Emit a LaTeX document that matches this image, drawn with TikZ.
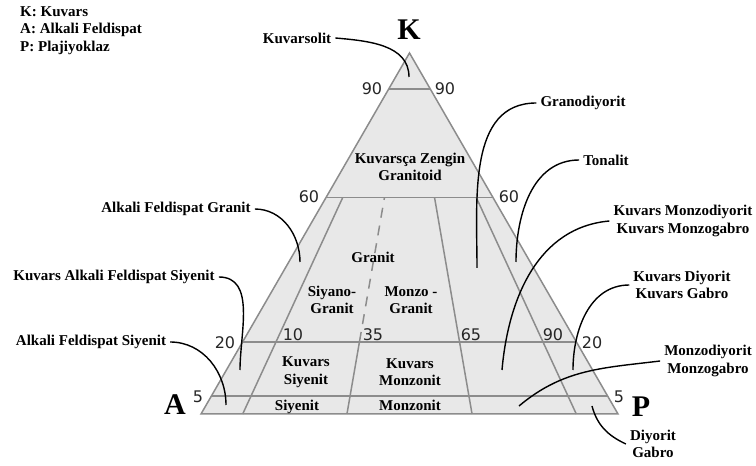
\documentclass[tikz,border=0pt]{standalone}
\usepackage{fontspec}
\setmainfont{Liberation Serif}
\newfontfamily\numfont{DejaVu Sans}
\usetikzlibrary{calc}

\begin{document}
\begin{tikzpicture}[x=1pt, y=1pt,
    every node/.style={font=\bfseries\fontsize{15}{17.5}\selectfont, align=center, inner sep=4pt},
    num/.style={font=\numfont\fontsize{16}{18}\selectfont, text=black!85, inner sep=0pt},
    corner/.style={font=\bfseries\fontsize{30}{30}\selectfont, inner sep=0pt},
    key/.style={anchor=west, inner sep=0pt},
    field/.style={draw=black!45, line width=1.5pt},
    lead/.style={draw=black, line width=1.4pt}]
  \useasboundingbox (0,0) rectangle (756,466);

  % triangle corners
  \coordinate (A) at (201,52);
  \coordinate (P) at (618,52);
  \coordinate (K) at (409.5,413);

  \fill[black!9] (A) -- (P) -- (K) -- cycle;
  \foreach \q in {0.05,0.2,0.6,0.9}
    \draw[field] ($(A)!\q!(K)$) -- ($(P)!\q!(K)$);
  \foreach \r in {0.1,0.65,0.9}
    \draw[field] ($(A)!\r!(P)$) -- ($(A)!\r!(P)!0.6!(K)$);
  \draw[field] ($(A)!0.35!(P)$) -- ($(A)!0.35!(P)!0.2!(K)$);
  \draw[field, dash pattern=on 10pt off 8pt] ($(A)!0.35!(P)!0.2!(K)$) -- ($(A)!0.35!(P)!0.6!(K)$);
  \draw[field] (A) -- (P) -- (K) -- cycle;

  % legend
  \node[key] (keyK) at (20,454) {K: Kuvars};
  \node[key] (keyA) at (20,436) {A: Alkali Feldispat};
  \node[key] (keyP) at (20,418) {P: Plajiyoklaz};

  % corner letters
  \node[corner] (cornerK) at (409,436) {K};
  \node[corner] (cornerA) at (175,61) {A};
  \node[corner] (cornerP) at (641,59) {P};

  % scale numbers
  \node[num] (q90l) at (372,377) {90};
  \node[num] (q90r) at (445,377) {90};
  \node[num] (q60l) at (309,269) {60};
  \node[num] (q60r) at (509,269) {60};
  \node[num] (q20l) at (225,123) {20};
  \node[num] (q20r) at (592,123) {20};
  \node[num] (q5l) at (198,69) {5};
  \node[num] (q5r) at (619,69) {5};
  \node[num] (p10) at (293,131) {10};
  \node[num] (p35) at (373,131) {35};
  \node[num] (p65) at (471,131) {65};
  \node[num] (p90) at (553,131) {90};

  % fields inside
  \node (zengin) at (410,299) {Kuvarsça Zengin\\Granitoid};
  \node (granit) at (373,209) {Granit};
  \node (siyanoGranit) at (332,166) {Siyano-\\Granit};
  \node (monzoGranit) at (411,166) {Monzo -\\Granit};
  \node (kuvSiyenit) at (306,94) {Kuvars\\Siyenit};
  \node (kuvMonzonit) at (410,94) {Kuvars\\Monzonit};
  \node (siyenit) at (297,59) {Siyenit};
  \node (monzonit) at (410,61) {Monzonit};

  % fields outside
  \node (kuvarsolit) at (297,428) {Kuvarsolit};
  \node (granodiyorit) at (583,363) {Granodiyorit};
  \node (tonalit) at (606,306) {Tonalit};
  \node (kuvMonzoD) at (683,245) {Kuvars Monzodiyorit\\Kuvars Monzogabro};
  \node (kuvDiyorit) at (682,181) {Kuvars Diyorit\\Kuvars Gabro};
  \node (monzoD) at (708,105) {Monzodiyorit\\Monzogabro};
  \node (diyorit) at (653,22) {Diyorit\\Gabro};
  \node (afGranit) at (176,257) {Alkali Feldispat Granit};
  \node (kafSiyenit) at (114,189) {Kuvars Alkali Feldispat Siyenit};
  \node (afSiyenit) at (91,124) {Alkali Feldispat Siyenit};

  % leader ends
  \coordinate (kuvarsolitEnd) at (409,389);
  \coordinate (granodiyoritEnd) at (477,198);
  \coordinate (tonalitEnd) at (516,204);
  \coordinate (kuvMonzoDEnd) at (502,96);
  \coordinate (kuvDiyoritEnd) at (573,96);
  \coordinate (monzoDEnd) at (519,60);
  \coordinate (diyoritEnd) at (592,60);
  \coordinate (afGranitEnd) at (300,204);
  \coordinate (kafSiyenitEnd) at (240,96);
  \coordinate (afSiyenitEnd) at (226,61);

  \draw[lead] (kuvarsolit.east) to[out=-5, in=90] (kuvarsolitEnd);
  \draw[lead] (granodiyorit.west) to[out=180, in=90] (granodiyoritEnd);
  \draw[lead] (tonalit.west) to[out=180, in=90] (tonalitEnd);
  \draw[lead] (kuvMonzoD.west) to[out=185, in=85] (kuvMonzoDEnd);
  \draw[lead] (kuvDiyorit.west) to[out=180, in=90] (kuvDiyoritEnd);
  \draw[lead] (monzoD.west) to[out=187, in=40] (monzoDEnd);
  \draw[lead] (diyorit.west) to[out=155, in=-75] (diyoritEnd);
  \draw[lead] (afGranit.east) to[out=0, in=90] (afGranitEnd);
  \draw[lead] (kafSiyenit.east) to[out=0, in=90] (kafSiyenitEnd);
  \draw[lead] (afSiyenit.east) to[out=0, in=90] (afSiyenitEnd);
\end{tikzpicture}
\end{document}
